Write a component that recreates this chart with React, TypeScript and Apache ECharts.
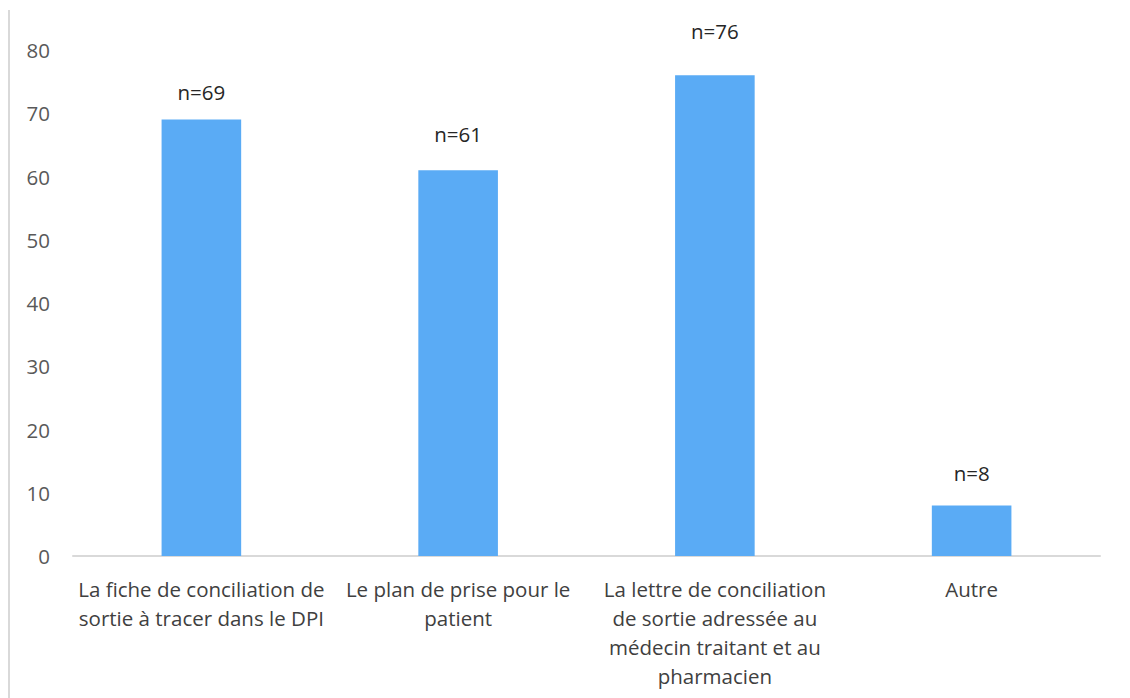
import React, { useEffect, useRef } from "react";
import * as echarts from "echarts";

const categories = [
  "La fiche de conciliation de\nsortie à tracer dans le DPI",
  "Le plan de prise pour le\npatient",
  "La lettre de conciliation\nde sortie adressée au\nmédecin traitant et au\npharmacien",
  "Autre",
];
const values = [69, 61, 76, 8];
const yTicks = { min: 0, max: 80, interval: 10 };

// label gaps above each bar (layout only)
const LABEL_GAPS = [17, 26, 34, 22];

export default function App() {
  const ref = useRef<HTMLDivElement>(null);
  useEffect(() => {
    const chart = echarts.init(ref.current!, null, { renderer: "svg" });
    const font = "'Open Sans', 'Noto Sans', sans-serif";
    chart.setOption({
      animation: false,
      backgroundColor: "#ffffff",
      textStyle: { fontFamily: font },
      grid: { left: 73, right: 30, top: 50, bottom: 142, containLabel: false },
      graphic: [
        {
          type: "line",
          shape: { x1: 9, y1: 10, x2: 9, y2: 698 },
          style: { stroke: "#d9d9d9", lineWidth: 2 },
        },
      ],
      xAxis: {
        type: "category",
        data: categories,
        axisLine: { lineStyle: { color: "#d9d9d9", width: 2 } },
        axisTick: { show: false },
        axisLabel: {
          interval: 0,
          color: "#404040",
          fontSize: 20.5,
          lineHeight: 29,
          margin: 18,
          fontFamily: font,
        },
      },
      yAxis: {
        type: "value",
        min: yTicks.min,
        max: yTicks.max,
        interval: yTicks.interval,
        splitLine: { show: false },
        axisLine: { show: false },
        axisTick: { show: false },
        axisLabel: { color: "#595959", fontSize: 20.5, margin: 23, fontFamily: font },
      },
      series: [
        {
          type: "bar",
          data: values.map((v, i) => ({
            value: v,
            label: { distance: LABEL_GAPS[i] },
          })),
          barWidth: "31%",
          itemStyle: { color: "#5aabf5" },
          label: {
            show: true,
            position: "top",
            distance: 17,
            formatter: (p: any) => "n=" + p.value,
            color: "#262626",
            fontSize: 20.5,
            fontFamily: font,
          },
        },
      ],
    });
    return () => chart.dispose();
  }, []);
  return (
    <div
      ref={ref}
      style={{ position: "fixed", left: 0, top: 0, width: 1130, height: 698 }}
    />
  );
}
